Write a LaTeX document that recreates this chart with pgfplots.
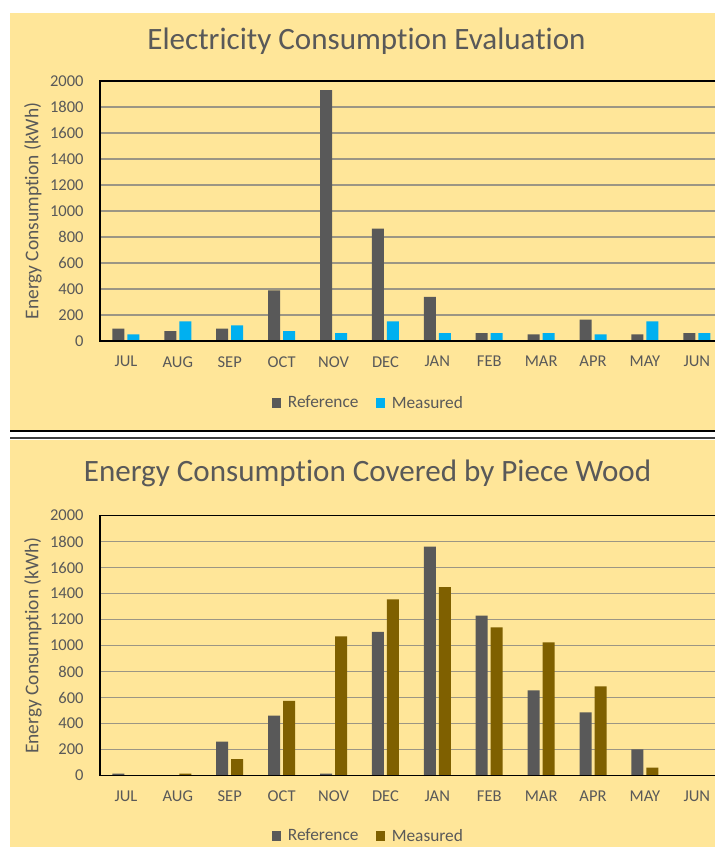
\documentclass[border=0pt]{standalone}
\usepackage{fontspec}
\setmainfont{Carlito}[Ligatures={NoCommon}]
\usepackage{pgfplots}
\usepackage{pgfplotstable}
\pgfplotsset{compat=1.18}
\definecolor{bgy}{HTML}{FFE699}
\definecolor{refc}{HTML}{595959}
\definecolor{measb}{HTML}{00B0F0}
\definecolor{measw}{HTML}{7F6000}
\definecolor{txt}{HTML}{595959}
\definecolor{gridc}{HTML}{9C9684}

\pgfplotstableread{
idx ref meas
0 95 50
1 75 150
2 95 120
3 390 75
4 1930 60
5 865 150
6 340 60
7 60 60
8 50 60
9 165 50
10 50 150
11 60 60
}\elec

\pgfplotstableread{
idx ref meas
0 15 0
1 0 15
2 260 125
3 460 575
4 15 1070
5 1105 1355
6 1760 1450
7 1230 1140
8 655 1025
9 485 685
10 200 60
11 0 0
}\wood

\pgfplotsset{
 panel/.style={
  scale only axis, width=461.25pt, height=195pt,
  xmin=-0.5, xmax=11.35, ymin=0, ymax=2000,
  ybar=2.25pt, bar width=9pt,
  xtick={0,...,11},
  xticklabels={JUL,AUG,SEP,OCT,NOV,DEC,JAN,FEB,MAR,APR,MAY,JUN},
  ytick={0,200,...,2000},
  major tick length=0pt,
  ymajorgrids, grid style={gridc, line width=1.1pt},
  axis line style={draw=none},
  clip=false,
  tick label style={font=\fontsize{12.4}{14}\selectfont, text=txt},
  /pgf/number format/assume math mode=true,
  /pgf/number format/set thousands separator={},
  ylabel={Energy Consumption (kWh)},
  ylabel style={font=\fontsize{14.6}{16}\selectfont, text=txt, at={(axis description cs:-0.109,0.5)}, anchor=center},
  legend columns=2,
  legend style={draw=none, fill=none, font=\fontsize{13}{15}\selectfont, text=txt,
    /tikz/every even column/.append style={column sep=11pt}},
  legend image code/.code={\fill[#1] (0pt,-3.6pt) rectangle (7.2pt,3.6pt); \path (10pt,0pt);},
  yticklabel style={xshift=-8.8pt},
  xticklabel style={yshift=-8pt},
 }
}

\begin{document}
\begin{tikzpicture}
\fill[white] (0,0) rectangle (536.25pt,635.25pt);
\fill[bgy] (7.5pt,312.75pt) rectangle (536.25pt,625.5pt);
\fill[bgy] (7.5pt,0pt) rectangle (536.25pt,305.25pt);
\draw[black, line width=1.1pt] (7.5pt,312pt) -- (536.25pt,312pt);
\draw[black!75, line width=1.1pt] (7.5pt,306.75pt) -- (536.25pt,306.75pt);

\node[anchor=base, text=txt, font=\fontsize{23.3}{26}\selectfont] at (274.9pt,597.75pt) {Electricity Consumption Evaluation};
\node[anchor=base, text=txt, font=\fontsize{23.3}{26}\selectfont] at (275.6pt,273.75pt) {Energy Consumption Covered by Piece Wood};

\begin{axis}[panel, at={(75pt,379.5pt)}, anchor=south west,
  legend style={at={(axis description cs:0.437,-0.2385)}, anchor=center}]
\addplot[fill=refc, draw=none] table[x=idx, y=ref] {\elec};
\addplot[fill=measb, draw=none] table[x=idx, y=meas] {\elec};
\legend{Reference, Measured}
\draw[black, line width=1.1pt] (rel axis cs:1,1) -- (rel axis cs:0,1) -- (rel axis cs:0,0) -- (rel axis cs:1,0);
\end{axis}

\begin{axis}[panel, at={(75pt,53.625pt)}, anchor=south west,
  legend style={at={(axis description cs:0.437,-0.2327)}, anchor=center}]
\addplot[fill=refc, draw=none] table[x=idx, y=ref] {\wood};
\addplot[fill=measw, draw=none] table[x=idx, y=meas] {\wood};
\legend{Reference, Measured}
\draw[black, line width=1.1pt] (rel axis cs:1,1) -- (rel axis cs:0,1) -- (rel axis cs:0,0) -- (rel axis cs:1,0);
\end{axis}

\pgfresetboundingbox
\useasboundingbox (0,0) rectangle (536.25pt,635.25pt);
\end{tikzpicture}
\end{document}
